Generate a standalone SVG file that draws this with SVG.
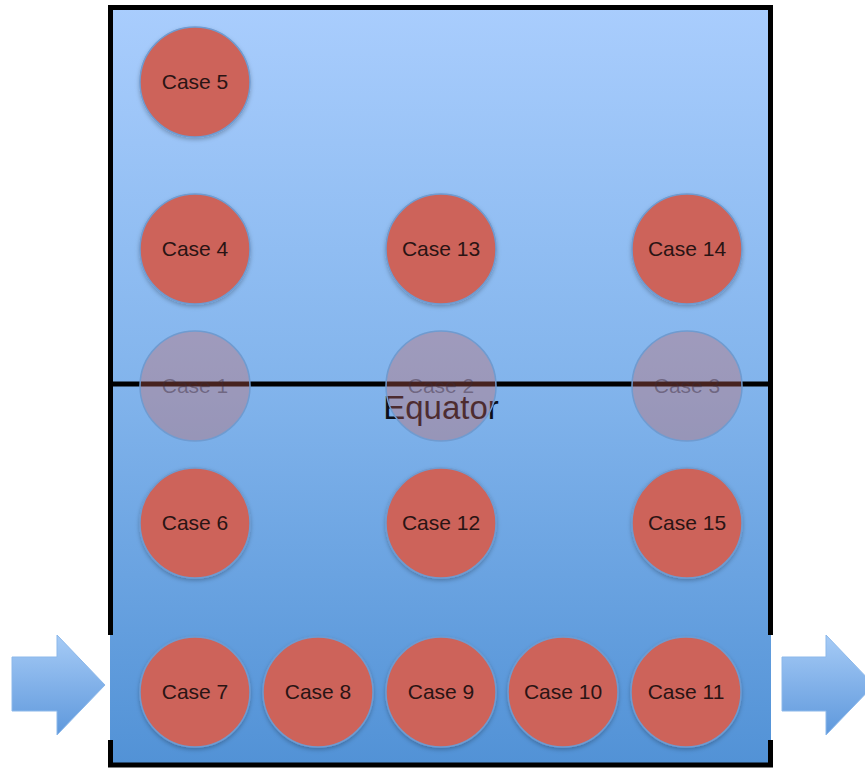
<svg xmlns="http://www.w3.org/2000/svg" width="865" height="769" viewBox="0 0 865 769">
<defs>
<linearGradient id="bg" x1="0" y1="0" x2="0" y2="1">
<stop offset="0" stop-color="#a9cdfd"/>
<stop offset="0.5" stop-color="#82b4ec"/>
<stop offset="1" stop-color="#5292d6"/>
</linearGradient>
<linearGradient id="arr" x1="0" y1="0" x2="0" y2="1">
<stop offset="0" stop-color="#a6cbf6"/>
<stop offset="1" stop-color="#5e98dc"/>
</linearGradient>
<filter id="sh" x="-20%" y="-20%" width="140%" height="150%">
<feDropShadow dx="0" dy="2" stdDeviation="2" flood-color="#000" flood-opacity="0.25"/>
</filter>
<style>
.c{fill:#cd635a;stroke:#6f9bd0;stroke-width:1.5;filter:url(#sh)}
.g{fill:#cd635a;fill-opacity:0.34;stroke:#6f9bd0;stroke-width:1.5}
.t{font-family:"Liberation Sans",Arial,sans-serif;font-size:21px;fill:#2a1414;text-anchor:middle}
.tg{font-family:"Liberation Sans",Arial,sans-serif;font-size:21px;fill:#3a2a3a;fill-opacity:0.45;text-anchor:middle}
.b{stroke:#000;stroke-width:5;fill:none}
</style>
</defs>
<rect x="110" y="7" width="661" height="757" fill="url(#bg)"/>
<g id="border">
<path class="b" d="M110.5 635 V7.5 H770.5 V635"/>
<path class="b" d="M110.5 740 V765 H770.5 V740"/>
</g>
<g id="arrow-in"><path d="M12 657 H57 V635 L105 685 L57 735 V711 H12 Z" fill="url(#arr)" stroke="#8cb8ea" stroke-width="1"/></g>
<g id="arrow-out"><path d="M782 657 H826 V635 L874 685 L826 735 V711 H782 Z" fill="url(#arr)" stroke="#8cb8ea" stroke-width="1"/></g>
<g id="equator">
<line x1="110" y1="384" x2="771" y2="384" stroke="#000" stroke-width="5"/>
<text x="441" y="419" font-family="Liberation Sans,Arial,sans-serif" font-size="33" fill="#0c101a" text-anchor="middle">Equator</text>
</g>
<g id="case5"><circle class="c" cx="195" cy="82" r="55"/><text class="t" x="195" y="89">Case 5</text></g>
<g id="case4"><circle class="c" cx="195" cy="249" r="55"/><text class="t" x="195" y="256">Case 4</text></g>
<g id="case13"><circle class="c" cx="441" cy="249" r="55"/><text class="t" x="441" y="256">Case 13</text></g>
<g id="case14"><circle class="c" cx="687" cy="249" r="55"/><text class="t" x="687" y="256">Case 14</text></g>
<g id="case1"><circle class="g" cx="195" cy="386" r="55"/><text class="tg" x="195" y="393">Case 1</text></g>
<g id="case2"><circle class="g" cx="441" cy="386" r="55"/><text class="tg" x="441" y="393">Case 2</text></g>
<g id="case3"><circle class="g" cx="687" cy="386" r="55"/><text class="tg" x="687" y="393">Case 3</text></g>
<g id="case6"><circle class="c" cx="195" cy="523" r="55"/><text class="t" x="195" y="530">Case 6</text></g>
<g id="case12"><circle class="c" cx="441" cy="523" r="55"/><text class="t" x="441" y="530">Case 12</text></g>
<g id="case15"><circle class="c" cx="687" cy="523" r="55"/><text class="t" x="687" y="530">Case 15</text></g>
<g id="case7"><circle class="c" cx="195" cy="692" r="55"/><text class="t" x="195" y="699">Case 7</text></g>
<g id="case8"><circle class="c" cx="318" cy="692" r="55"/><text class="t" x="318" y="699">Case 8</text></g>
<g id="case9"><circle class="c" cx="441" cy="692" r="55"/><text class="t" x="441" y="699">Case 9</text></g>
<g id="case10"><circle class="c" cx="563" cy="692" r="55"/><text class="t" x="563" y="699">Case 10</text></g>
<g id="case11"><circle class="c" cx="686" cy="692" r="55"/><text class="t" x="686" y="699">Case 11</text></g>
</svg>
